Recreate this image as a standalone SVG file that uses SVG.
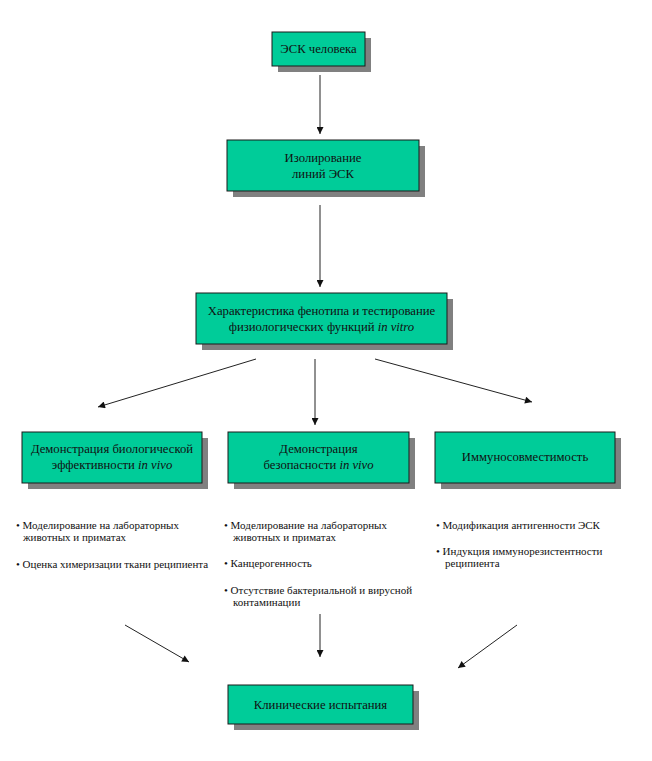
<svg xmlns="http://www.w3.org/2000/svg" width="652" height="761" viewBox="0 0 652 761">
<defs>
<style>
.box{fill:#00CC99;stroke:#1a1a1a;stroke-width:1}
.sh{fill:#808080}
.t{font-family:"Liberation Serif","Times New Roman",serif;font-size:12.7px;fill:#111;text-anchor:middle}
.b{font-family:"Liberation Serif","Times New Roman",serif;font-size:11px;fill:#111}
.c{stroke:#222;stroke-width:1;fill:none;marker-end:url(#ah)}
</style>
<marker id="ah" viewBox="0 0 10 10" refX="10" refY="5" markerWidth="9" markerHeight="7" orient="auto" markerUnits="userSpaceOnUse">
<path d="M0,0 L10,5 L0,10 z" fill="#111"/>
</marker>
</defs>
<rect width="652" height="761" fill="#fff"/>
<g id="connectors">
<line class="c" x1="320" y1="75" x2="320" y2="134"/>
<line class="c" x1="320" y1="205" x2="320" y2="287"/>
<line class="c" x1="256" y1="359" x2="98" y2="407"/>
<line class="c" x1="315" y1="359" x2="315" y2="425"/>
<line class="c" x1="375" y1="359" x2="532" y2="402"/>
<line class="c" x1="125" y1="625" x2="189" y2="662"/>
<line class="c" x1="320" y1="614" x2="320" y2="657"/>
<line class="c" x1="517" y1="625" x2="458" y2="668"/>
</g>
<g id="n1">
<rect class="sh" x="278" y="38" width="93" height="34"/>
<rect class="box" x="272" y="32" width="93" height="34"/>
<text class="t" x="318.5" y="53">ЭСК человека</text>
</g>
<g id="n2">
<rect class="sh" x="233" y="146" width="192" height="51"/>
<rect class="box" x="227" y="140" width="192" height="51"/>
<text class="t" x="323" y="162">Изолирование</text>
<text class="t" x="323" y="178">линий ЭСК</text>
</g>
<g id="n3">
<rect class="sh" x="202" y="299" width="251" height="51"/>
<rect class="box" x="196" y="293" width="251" height="51"/>
<text class="t" x="321.5" y="315">Характеристика фенотипа и тестирование</text>
<text class="t" x="321.5" y="331">физиологических функций <tspan font-style="italic">in vitro</tspan></text>
</g>
<g id="n4">
<rect class="sh" x="28" y="438" width="180" height="51"/>
<rect class="box" x="22" y="432" width="180" height="51"/>
<text class="t" x="112" y="453">Демонстрация биологической</text>
<text class="t" x="112" y="469">эффективности <tspan font-style="italic">in vivo</tspan></text>
</g>
<g id="n5">
<rect class="sh" x="234" y="438" width="181" height="51"/>
<rect class="box" x="228" y="432" width="181" height="51"/>
<text class="t" x="318.5" y="453">Демонстрация</text>
<text class="t" x="318.5" y="469">безопасности <tspan font-style="italic">in vivo</tspan></text>
</g>
<g id="n6">
<rect class="sh" x="441" y="438" width="180" height="51"/>
<rect class="box" x="435" y="432" width="180" height="51"/>
<text class="t" x="525" y="461">Иммуносовместимость</text>
</g>
<g id="l1">
<text class="b" x="16" y="529">• Моделирование на лабораторных</text>
<text class="b" x="23" y="541">животных и приматах</text>
<text class="b" x="16" y="568">• Оценка химеризации ткани реципиента</text>
</g>
<g id="l2">
<text class="b" x="224" y="529">•  Моделирование на лабораторных</text>
<text class="b" x="233" y="541">животных и приматах</text>
<text class="b" x="224" y="567">•  Канцерогенность</text>
<text class="b" x="224" y="594">•  Отсутствие бактериальной и вирусной</text>
<text class="b" x="233" y="606">контаминации</text>
</g>
<g id="l3">
<text class="b" x="436" y="529">•  Модификация антигенности ЭСК</text>
<text class="b" x="436" y="555">•  Индукция иммунорезистентности</text>
<text class="b" x="445" y="567">реципиента</text>
</g>
<g id="n7">
<rect class="sh" x="234" y="691" width="185" height="39"/>
<rect class="box" x="228" y="685" width="185" height="39"/>
<text class="t" x="320.5" y="709">Клинические испытания</text>
</g>
</svg>
